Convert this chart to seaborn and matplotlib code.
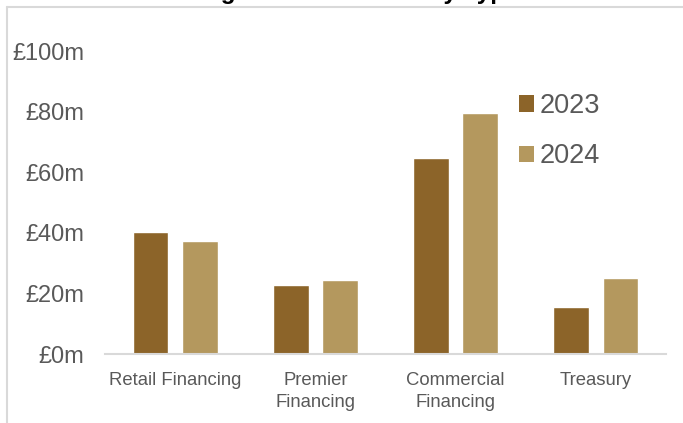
import matplotlib
matplotlib.use("Agg")
import matplotlib.pyplot as plt
from matplotlib.lines import Line2D
from matplotlib.patches import Patch
import seaborn as sns
import pandas as pd

categories = ["Retail Financing", "Premier\nFinancing", "Commercial\nFinancing", "Treasury"]
years = ["2023", "2024"]
values_2023 = [40.3, 22.7, 64.6, 15.6]
values_2024 = [37.3, 24.4, 79.4, 25.0]
ytick_values = [0, 20, 40, 60, 80, 100]
ytick_labels = ["£0m", "£20m", "£40m", "£60m", "£80m", "£100m"]
title = "Lending Interest Income by Type"

colors = {"2023": "#8C6429", "2024": "#B4985E"}

df = pd.DataFrame({
    "category": categories * 2,
    "year": ["2023"] * len(categories) + ["2024"] * len(categories),
    "value": values_2023 + values_2024,
})

sns.set_theme(style="white")
plt.rcParams["font.family"] = ["Liberation Sans", "DejaVu Sans"]

fig = plt.figure(figsize=(6.83, 4.23), dpi=100)
ax = fig.add_axes([105 / 683, 1 - 354 / 423, (666 - 105) / 683, (354 - 51) / 423])

sns.barplot(data=df, x="category", y="value", hue="year", order=categories,
            hue_order=years, palette=colors, width=0.7, gap=0.27,
            saturation=1, ax=ax, legend=False)

ax.set_ylim(0, 100)
ax.set_xlim(-0.5, len(categories) - 0.5)
ax.set_yticks(ytick_values)
ax.set_yticklabels(ytick_labels, fontsize=17, color="#595959")
ax.tick_params(axis="x", labelsize=13.3, labelcolor="#595959", length=0, pad=13)
ax.tick_params(axis="y", length=0, pad=15)
for lab in ax.get_xticklabels():
    lab.set_linespacing(1.38)
ax.set_xlabel("")
ax.set_ylabel("")
for s in ["top", "right", "left"]:
    ax.spines[s].set_visible(False)
ax.spines["bottom"].set_color("#d9d9d9")
ax.spines["bottom"].set_linewidth(1.5)
ax.grid(False)

handles = [Patch(facecolor=colors[y], edgecolor="none") for y in years]
leg = ax.legend(handles, years, loc="upper left",
                bbox_to_anchor=(519 / 683, 1 - 93 / 423),
                bbox_transform=fig.transFigure, frameon=False,
                fontsize=19.5, handlelength=0.55, handleheight=0.55,
                handletextpad=0.2, labelspacing=0.9, borderaxespad=0,
                borderpad=0)
for t in leg.get_texts():
    t.set_color("#595959")

# outer frame (light grey border, partially visible)
fig.add_artist(Line2D([7 / 683, 7 / 683], [0, 1 - 7 / 423],
                      transform=fig.transFigure, color="#d9d9d9", lw=1.5))
fig.add_artist(Line2D([7 / 683, 1], [1 - 7 / 423, 1 - 7 / 423],
                      transform=fig.transFigure, color="#d9d9d9", lw=1.5))

# title (mostly cropped above the image, as in the reference)
fig.text(330 / 683, 1.0 + 0.5 / 423, title, ha="center", va="baseline",
         fontsize=17.5, fontweight="bold", color="black")

fig.savefig("out.png", dpi=100)
